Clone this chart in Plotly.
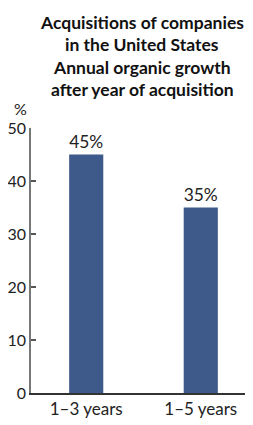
import plotly.graph_objects as go

categories = ["1–3 years", "1–5 years"]
values = [45, 35]
y_ticks = [0, 10, 20, 30, 40, 50]
title_lines = [
    "Acquisitions of companies",
    "in the United States",
    "Annual organic growth",
    "after year of acquisition",
]

FONT = "Lato"
# the page body has an 8px margin, so the figure is drawn 8px right/down
OFF = 8
W, H = 253 - OFF, 425 - OFF
ML, MR, MT, MB = 31 - OFF, 0, 128 - OFF, 32
PLOT_H = H - MT - MB

fig = go.Figure()
fig.add_trace(go.Bar(
    x=categories,
    y=values,
    width=0.298,
    marker=dict(color="#3d5a8a", line=dict(width=0)),
    text=[f"{v}%" for v in values],
    textposition="outside",
    textfont=dict(family=FONT, size=17.5, color="#222222"),
    cliponaxis=False,
))

# title lines as annotations (pixel centers from top of the window)
title_centers_px = [22, 44.5, 67, 89.5]
annotations = []
for line, cy in zip(title_lines, title_centers_px):
    annotations.append(dict(
        text=f"<b>{line}</b>", xref="paper", yref="paper",
        x=0.5, y=1 + (MT - (cy - OFF)) / PLOT_H, xanchor="center", yanchor="middle",
        showarrow=False, font=dict(family=FONT, size=17.5, color="#111111"),
    ))
annotations.append(dict(
    text="%", xref="paper", yref="paper",
    x=-0.047, y=1 + (MT - (108 - OFF)) / PLOT_H, xanchor="center", yanchor="middle",
    showarrow=False, font=dict(family=FONT, size=16, color="#222222"),
))

fig.update_layout(
    width=W, height=H,
    margin=dict(l=ML, r=MR, t=MT, b=MB, autoexpand=False),
    paper_bgcolor="white", plot_bgcolor="white",
    showlegend=False,
    xaxis=dict(
        type="category",
        range=[-0.482, 1.456],
        showline=True, linecolor="#333333", linewidth=2,
        ticks="", showgrid=False, automargin=False,
        tickfont=dict(family=FONT, size=17, color="#222222"),
        fixedrange=True,
    ),
    yaxis=dict(
        range=[0, 50],
        tickvals=y_ticks,
        showline=True, linecolor="#777777", linewidth=1.5,
        ticks="inside", ticklen=5, tickwidth=1.5, tickcolor="#555555",
        showgrid=False, zeroline=False, automargin=False,
        tickfont=dict(family=FONT, size=16, color="#222222"),
        fixedrange=True,
    ),
    annotations=annotations,
)

fig.write_html("out.html")
